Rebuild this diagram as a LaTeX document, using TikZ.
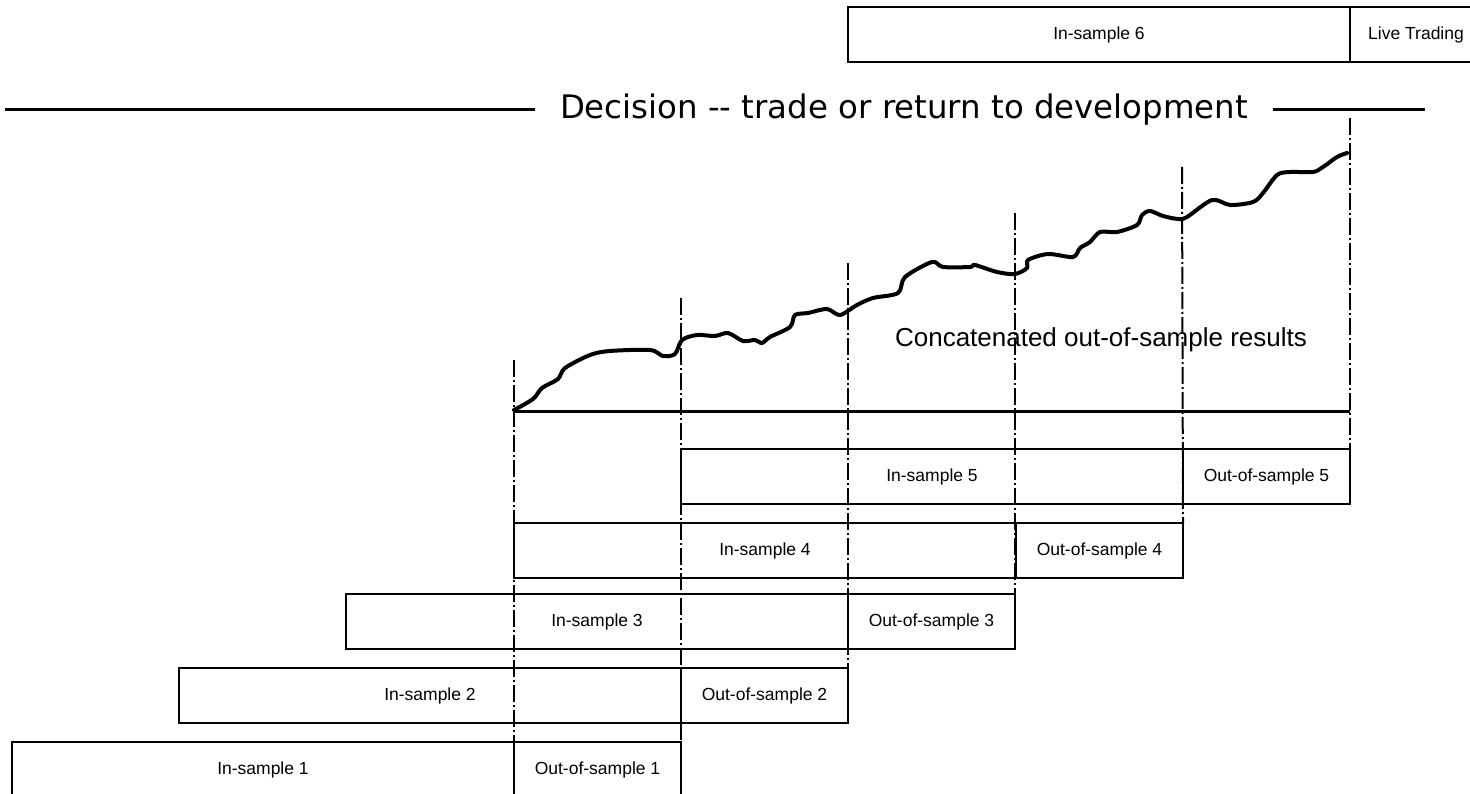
\documentclass[tikz,border=0pt]{standalone}
\usepackage{fontspec}
\setmainfont{Liberation Sans}
\newfontfamily\decfont{DejaVu Sans}
\usetikzlibrary{positioning}

\tikzset{
  insample/.style={draw, line width=2.4pt, minimum height=55pt, minimum width=502pt,
                   inner sep=0pt, outer sep=0pt, anchor=north west,
                   font=\fontsize{17.5}{20}\selectfont},
  outsample/.style={insample, minimum width=167pt},
  marker/.style={line width=2pt, dash pattern=on 17pt off 3pt on 2pt off 3pt},
  rule/.style={line width=3pt},
  equity/.style={line width=4pt, line join=round, line cap=round},
}

\begin{document}
\begin{tikzpicture}[x=1pt, y=-1pt]
  \useasboundingbox (0,0) rectangle (1470,794);
  \clip (0,0) rectangle (1470,794);

  % walk-forward windows
  \node[insample]  (ins1) at (12,742)          {In-sample 1};
  \node[outsample] (out1) [right=0pt of ins1] {Out-of-sample 1};
  \node[insample]  (ins2) at (179,668)         {In-sample 2};
  \node[outsample] (out2) [right=0pt of ins2] {Out-of-sample 2};
  \node[insample]  (ins3) at (346,594)         {In-sample 3};
  \node[outsample] (out3) [right=0pt of ins3] {Out-of-sample 3};
  \node[insample]  (ins4) at (514,523)         {In-sample 4};
  \node[outsample] (out4) [right=0pt of ins4] {Out-of-sample 4};
  \node[insample]  (ins5) at (681,449)         {In-sample 5};
  \node[outsample] (out5) [right=0pt of ins5] {Out-of-sample 5};
  \node[insample]  (ins6) at (848,7)           {In-sample 6};
  \node[outsample, minimum width=132pt] (live) [right=0pt of ins6] {Live Trading};

  % decision rule
  \coordinate (dl) at (5,110);
  \coordinate (dr) at (1425,110);
  \node[font=\decfont\fontsize{32.4}{38}\selectfont, inner xsep=25pt, anchor=base]
       (decision) at (904,119) {Decision {-}{-} trade or return to development};
  \draw[rule] (dl) -- (dl -| decision.west);
  \draw[rule] (dr -| decision.east) -- (dr);

  % out-of-sample axis
  \coordinate (a0) at (514,411);
  \coordinate (a1) at (1350,411);
  \draw[rule] (a0) -- (a1);
  \node[font=\fontsize{26}{30}\selectfont, anchor=base] (concat) at (1101,347)
       {Concatenated out-of-sample results};

  % step markers
  \coordinate (t0) at (514,360);
  \coordinate (t1) at (681,298);
  \coordinate (t2) at (848,263);
  \coordinate (t3) at (1015,213);
  \coordinate (t4) at (1182,167);
  \coordinate (t5) at (1350,118);
  \draw[marker] (t0) -- (ins1.north east);
  \draw[marker] (t1) -- (out1.north east);
  \draw[marker] (t2) -- (out2.north east);
  \draw[marker] (t3) -- (out3.north east);
  \draw[marker] (t4) -- (out4.north east);
  \draw[marker] (t5) -- (out5.north east);

  % equity curve
  \draw[equity] plot[smooth, tension=0.5] coordinates {
    (514,410) (533,399) (542,388) (558,379) (565,368) (590,355) (610,351)
    (650,350) (663,356) (675,354) (682,340) (697,335) (715,336) (728,333)
    (743,341) (755,340) (762,343) (770,337) (790,327) (795,315) (808,313)
    (827,309) (840,315) (857,305) (873,298) (898,293) (905,277) (932,262)
    (943,267) (970,267) (975,265) (997,272) (1015,274) (1027,268) (1028,260)
    (1048,254) (1073,257) (1080,248) (1090,242) (1100,232) (1117,232)
    (1137,225) (1142,215) (1150,211) (1163,216) (1178,219) (1187,217)
    (1212,200) (1230,205) (1253,202) (1263,193) (1277,175) (1290,172)
    (1313,172) (1323,167) (1337,157) (1347,153)};
\end{tikzpicture}
\end{document}
